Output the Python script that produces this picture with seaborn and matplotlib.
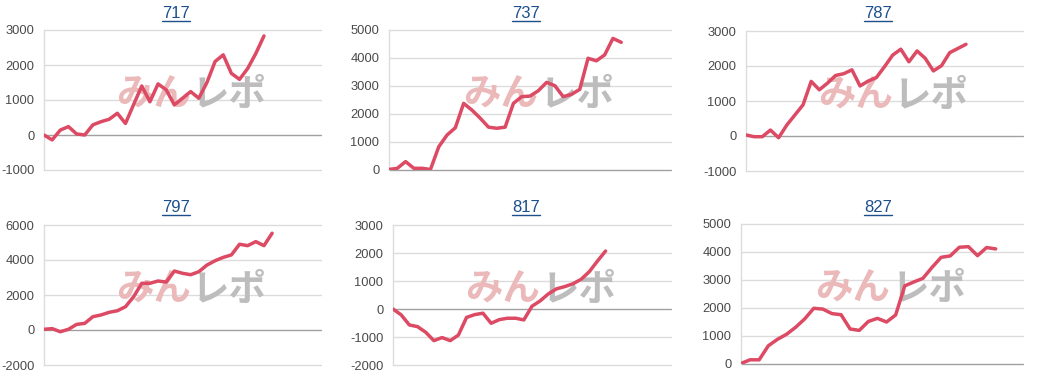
import matplotlib
matplotlib.use("Agg")
import matplotlib.pyplot as plt
import seaborn as sns
import pandas as pd
from matplotlib.lines import Line2D

# ---- data -------------------------------------------------------------
machines = ["717", "737", "787", "797", "817", "827"]

s717 = [0, -140, 140, 240, 30, 0, 290, 380, 450, 620, 330, 870, 1400, 950,
        1460, 1290, 860, 1050, 1240, 1050, 1500, 2100, 2290, 1760, 1590,
        1900, 2330, 2830]
s737 = [20, 60, 300, 60, 60, 20, 830, 1250, 1510, 2380, 2140, 1850, 1530,
        1490, 1530, 2380, 2620, 2640, 2830, 3130, 3010, 2620, 2700, 2880,
        3990, 3900, 4110, 4700, 4560]
s787 = [30, -20, -20, 170, -50, 310, 600, 890, 1560, 1320, 1510, 1730, 1780,
        1890, 1430, 1570, 1670, 1980, 2310, 2480, 2120, 2430, 2220, 1860,
        2010, 2380, 2500, 2620]
s797 = [40, 80, -100, 40, 320, 380, 760, 860, 1010, 1100, 1330, 1900, 2670,
        2670, 2800, 2740, 3370, 3240, 3160, 3330, 3710, 3960, 4150, 4290,
        4900, 4820, 5050, 4820, 5530]
s817 = [0, -210, -570, -630, -830, -1130, -1020, -1130, -930, -300, -200,
        -150, -510, -380, -330, -330, -390, 100, 290, 540, 720, 800, 900,
        1060, 1330, 1710, 2070]
s827 = [20, 150, 150, 650, 880, 1060, 1310, 1610, 1990, 1960, 1800, 1760,
        1250, 1200, 1520, 1630, 1500, 1750, 2790, 2930, 3060, 3450, 3810,
        3860, 4170, 4190, 3870, 4160, 4110]

series = [s717, s737, s787, s797, s817, s827]

yticks = [
    [-1000, 0, 1000, 2000, 3000],
    [0, 1000, 2000, 3000, 4000, 5000],
    [-1000, 0, 1000, 2000, 3000],
    [-2000, 0, 2000, 4000, 6000],
    [-2000, -1000, 0, 1000, 2000, 3000],
    [0, 1000, 2000, 3000, 4000, 5000],
]
xmax = [34, 34, 34, 34, 34, 31]

watermark_a = "みん"
watermark_b = "レポ"

# ---- style -------------------------------------------------------------
LINE = "#dc4a64"
GRID = "#dcdcdc"
BASE = "#a0a0a0"
TITLE = "#1c4f8c"

sns.set_theme(style="white")
plt.rcParams["font.family"] = ["Liberation Sans", "Noto Sans CJK JP", "DejaVu Sans"]

W, H = 1050, 388
fig = plt.figure(figsize=(W / 100, H / 100), dpi=100)
fig.patch.set_facecolor("white")

# axes rectangles in pixels: left, top, right, bottom
rects = [(44, 30, 321, 170), (389, 30, 671, 170), (746, 31, 1023, 171),
         (44, 225, 321, 365), (393, 225, 671, 365), (741, 224, 1023, 364)]
title_pos = [(176, 18), (526, 18), (878, 18), (176, 212), (526, 212), (878, 212)]

titles = []
for i, (name, vals) in enumerate(zip(machines, series)):
    l, t, r, b = rects[i]
    ax = fig.add_axes([l / W, 1 - b / H, (r - l) / W, (b - t) / H])
    ax.set_facecolor("white")
    df = pd.DataFrame({"x": list(range(len(vals))), "y": vals})
    ticks = yticks[i]
    for tk in ticks:
        ax.axhline(tk, color=BASE if tk == 0 else GRID, lw=1.0, zorder=1,
                   clip_on=False)
    sns.lineplot(data=df, x="x", y="y", ax=ax, color=LINE, linewidth=2.5,
                 zorder=4)
    ax.set_xlim(0, xmax[i])
    ax.set_ylim(ticks[0], ticks[-1])
    ax.set_yticks(ticks)
    ax.set_yticklabels([str(tk) for tk in ticks])
    ax.set_xticks([])
    ax.set_xlabel("")
    ax.set_ylabel("")
    for s in ["top", "right", "bottom"]:
        ax.spines[s].set_visible(False)
    ax.spines["left"].set_color(GRID)
    ax.spines["left"].set_linewidth(1.0)
    ax.tick_params(axis="y", length=0, pad=7, labelsize=9.3, labelcolor="#4a4a4a")

    # watermark
    ax.text(0.53, 0.54, watermark_a, transform=ax.transAxes, ha="right",
            va="center", fontsize=27, fontweight="bold", color="#ebb9b9",
            family=["Noto Sans CJK JP"], zorder=2)
    ax.text(0.535, 0.54, watermark_b, transform=ax.transAxes, ha="left",
            va="center", fontsize=27, fontweight="bold", color="#bdbdbd",
            family=["Noto Sans CJK JP"], zorder=2)

    tx, ty = title_pos[i]
    txt = fig.text(tx / W, 1 - ty / H, name, ha="center", va="baseline",
                   fontsize=12, color=TITLE)
    titles.append((txt, ty))

fig.canvas.draw()
renderer = fig.canvas.get_renderer()
for txt, ty in titles:
    bb = txt.get_window_extent(renderer=renderer)
    yline = (H - ty - 2.5) / H
    fig.add_artist(Line2D([bb.x0 / W, bb.x1 / W], [yline, yline],
                          transform=fig.transFigure, color=TITLE, lw=1.0))

fig.savefig("out.png", dpi=100)
